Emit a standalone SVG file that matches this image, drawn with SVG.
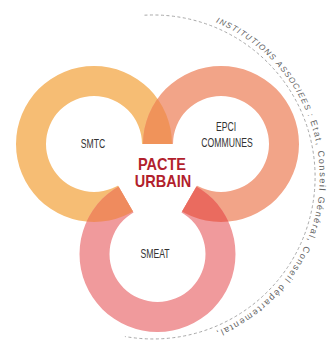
<svg xmlns="http://www.w3.org/2000/svg" xmlns:xlink="http://www.w3.org/1999/xlink" width="327" height="343" viewBox="0 0 327 343">
  <style>
    .label { font-family: "Liberation Sans", "DejaVu Sans", sans-serif; font-size: 12px; fill: #333333; text-anchor: middle; }
    .title { font-family: "Liberation Sans", "DejaVu Sans", sans-serif; font-size: 16.5px; font-weight: bold; fill: #b21f2d; text-anchor: middle; }
    .arc-text { font-family: "Liberation Sans", "DejaVu Sans", sans-serif; fill: #646464; }
    .caps { font-size: 8px; letter-spacing: 1.2px; font-style: italic; }
    .lower { font-size: 9px; letter-spacing: 1.6px; }
    .dash { fill: none; stroke: #a8a8a8; stroke-width: 1; stroke-dasharray: 3 2.5; }
  </style>
  <defs>
    <!-- everything except the triangle joining the three ring centres -->
    <clipPath id="outside">
      <path clip-rule="evenodd" d="M0,0 H327 V343 H0 Z M94,144 L221,144 L157.5,254 Z"/>
    </clipPath>
    <clipPath id="clipL">
      <path clip-rule="evenodd" d="M16,144 a78,78 0 1,0 156,0 a78,78 0 1,0 -156,0 Z M46,144 a48,48 0 1,0 96,0 a48,48 0 1,0 -96,0 Z"/>
    </clipPath>
    <clipPath id="clipR">
      <path clip-rule="evenodd" d="M143,144 a78,78 0 1,0 156,0 a78,78 0 1,0 -156,0 Z M173,144 a48,48 0 1,0 96,0 a48,48 0 1,0 -96,0 Z"/>
    </clipPath>
    <path id="ringL" fill-rule="evenodd" d="M16,144 a78,78 0 1,0 156,0 a78,78 0 1,0 -156,0 Z M46,144 a48,48 0 1,0 96,0 a48,48 0 1,0 -96,0 Z"/>
    <path id="ringR" fill-rule="evenodd" d="M143,144 a78,78 0 1,0 156,0 a78,78 0 1,0 -156,0 Z M173,144 a48,48 0 1,0 96,0 a48,48 0 1,0 -96,0 Z"/>
    <path id="ringB" fill-rule="evenodd" d="M79.5,254 a78,78 0 1,0 156,0 a78,78 0 1,0 -156,0 Z M109.5,254 a48,48 0 1,0 96,0 a48,48 0 1,0 -96,0 Z"/>
    <!-- baseline for the surrounding caption: centre (153,177), r 167 -->
    <path id="captionPath" d="M138.4,10.6 A167,167 0 1,1 124,341.5"/>
  </defs>

  <!-- outer dashed arc with caption -->
  <g id="institutions">
    <path class="dash" d="M144.5,15.2 A162,162 0 1,1 124.9,336.5"/>
    <text class="arc-text"><textPath xlink:href="#captionPath" href="#captionPath" startOffset="79"><tspan class="caps">INSTITUTIONS ASSOCIEES : </tspan><tspan class="lower">Etat, Conseil Général, Conseil départemental,</tspan></textPath></text>
  </g>

  <!-- three rings, open towards the centre -->
  <g id="rings" clip-path="url(#outside)">
    <use id="smtc-ring" xlink:href="#ringL" href="#ringL" fill="#f6bd74"/>
    <use id="epci-ring" xlink:href="#ringR" href="#ringR" fill="#f2a488"/>
    <use id="smeat-ring" xlink:href="#ringB" href="#ringB" fill="#f09a9c"/>
    <g clip-path="url(#clipL)">
      <use xlink:href="#ringR" href="#ringR" fill="#f0935a"/>
      <use xlink:href="#ringB" href="#ringB" fill="#ef8b5e"/>
    </g>
    <g clip-path="url(#clipR)">
      <use xlink:href="#ringB" href="#ringB" fill="#ea6b5f"/>
    </g>
  </g>

  <g id="smtc">
    <text class="label" transform="translate(93,148) scale(0.72,1)">SMTC</text>
  </g>
  <g id="epci">
    <text class="label" transform="translate(226,131) scale(0.72,1)">EPCI</text>
    <text class="label" transform="translate(227,147) scale(0.72,1)">COMMUNES</text>
  </g>
  <g id="smeat">
    <text class="label" transform="translate(155,258) scale(0.72,1)">SMEAT</text>
  </g>
  <g id="pacte">
    <text class="title" transform="translate(162,170) scale(0.88,1)">PACTE</text>
    <text class="title" transform="translate(163,187) scale(0.88,1)">URBAIN</text>
  </g>
</svg>
